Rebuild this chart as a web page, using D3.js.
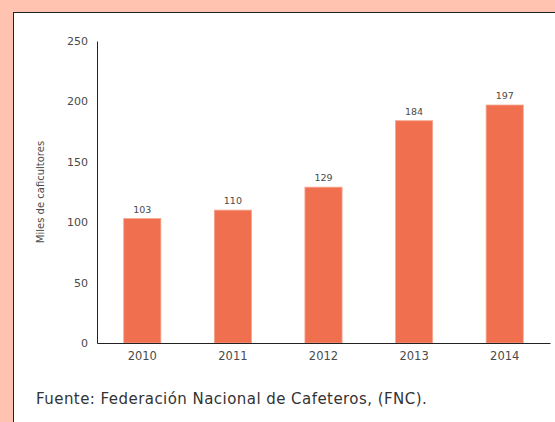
<!DOCTYPE html>
<html>
<head>
<meta charset="utf-8">
<style>
  body { margin: 0; background: #ffc3b0; }
  svg { display: block; }
  .tick text { fill: #4a4a4a; font-family: 'DejaVu Sans', sans-serif; }
</style>
</head>
<body>
<svg width="555" height="422"></svg>
<script src="https://d3js.org/d3.v7.min.js"></script>
<script>
  // data
  const years = ["2010", "2011", "2012", "2013", "2014"];
  const caficultores = [103, 110, 129, 184, 197];
  const yTicks = [0, 50, 100, 150, 200, 250];

  const svg = d3.select("svg");
  const font = "'DejaVu Sans', sans-serif";

  // white panel with dark border
  svg.append("rect")
    .attr("x", 13.5).attr("y", 12.5)
    .attr("width", 600).attr("height", 500)
    .style("fill", "#fff")
    .style("stroke", "#222")
    .style("stroke-width", 1);

  const margin = { left: 97, right: 550, top: 41, bottom: 343 };

  const x = d3.scaleBand()
    .domain(years)
    .range([margin.left, margin.right])
    .paddingInner(0.59)
    .paddingOuter(0.295);

  const y = d3.scaleLinear()
    .domain([0, 250])
    .range([margin.bottom, margin.top]);

  // y axis
  const yAxis = svg.append("g")
    .attr("transform", `translate(${margin.left},0)`)
    .call(d3.axisLeft(y).tickValues(yTicks).tickSize(0).tickPadding(9));
  yAxis.select(".domain").style("stroke", "#222");
  yAxis.selectAll("text").style("font-size", "11px");

  // bars
  svg.append("g")
    .selectAll("rect")
    .data(caficultores)
    .join("rect")
    .attr("x", (d, i) => x(years[i]))
    .attr("y", d => y(d))
    .attr("width", x.bandwidth())
    .attr("height", d => y(0) - y(d))
    .style("fill", "#ef6f4f")
    .style("stroke", "#f6a58f")
    .style("stroke-width", 0.8);

  // x axis
  const xAxis = svg.append("g")
    .attr("transform", `translate(0,${margin.bottom})`)
    .call(d3.axisBottom(x).tickSize(0).tickPadding(9));
  xAxis.select(".domain").style("stroke", "#222");
  xAxis.selectAll("text").style("font-size", "11.5px");

  // value labels
  svg.append("g")
    .selectAll("text")
    .data(caficultores)
    .join("text")
    .attr("x", (d, i) => x(years[i]) + x.bandwidth() / 2)
    .attr("y", d => y(d) - 6)
    .attr("text-anchor", "middle")
    .style("font-family", font)
    .style("font-size", "9.5px")
    .style("fill", "#4a4a4a")
    .text(d => d);

  // y title
  svg.append("text")
    .attr("transform", "translate(44,192) rotate(-90)")
    .attr("text-anchor", "middle")
    .style("font-family", font)
    .style("font-size", "10px")
    .style("fill", "#4a4a4a")
    .text("Miles de caficultores");

  // source
  svg.append("text")
    .attr("x", 36).attr("y", 404)
    .style("font-family", font)
    .style("font-size", "15px")
    .style("letter-spacing", "0.45px")
    .style("fill", "#333")
    .text("Fuente: Federación Nacional de Cafeteros, (FNC).");
</script>
</body>
</html>
